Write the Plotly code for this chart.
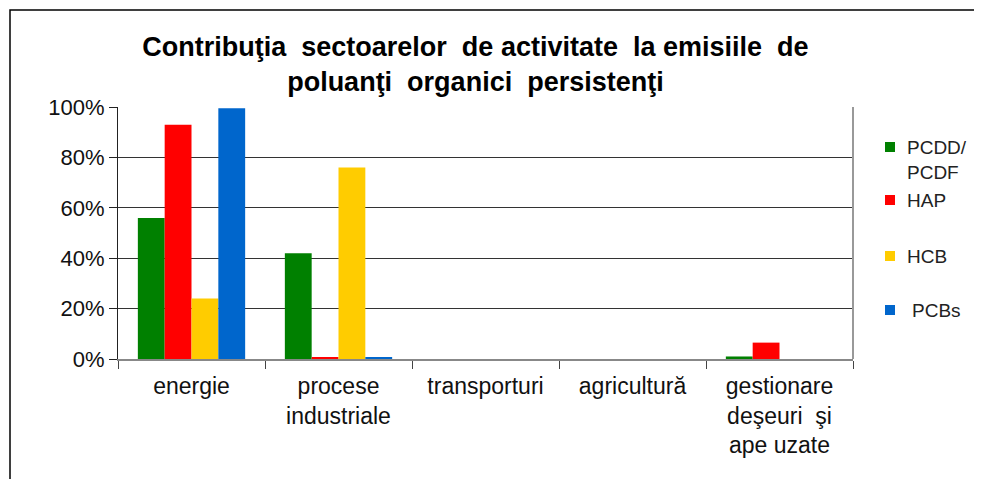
import plotly.graph_objects as go

# sectors and pollutant shares (fraction of total)
sectors = ["energie", "procese<br>industriale", "transporturi", "agricultură",
           "gestionare<br>deşeuri  şi<br>ape uzate"]
pcdd = [0.56, 0.42, 0.0, 0.0, 0.01]
hap = [0.93, 0.005, 0.0, 0.0, 0.065]
hcb = [0.24, 0.76, 0.0, 0.0, 0.0]
pcbs = [0.995, 0.005, 0.0, 0.0, 0.0]

names = ["PCDD/<br>PCDF", "HAP", "HCB", "PCBs"]
colors = ["#008000", "#FF0000", "#FFCC00", "#0066CC"]
values = [pcdd, hap, hcb, pcbs]

W, H = 982, 479
L, R, T, B = 110, 137, 99, 128
pw, ph = W - L - R, H - T - B


def px(x):
    return (x - L) / pw


def py(y):
    return (H - B - y) / ph


fig = go.Figure()
for name, vals, col in zip(names, values, colors):
    fig.add_trace(go.Bar(x=sectors, y=vals, name=name, marker_color=col,
                         marker_line_width=0, showlegend=False))

fig.update_layout(
    width=W, height=H,
    paper_bgcolor="white", plot_bgcolor="white",
    font=dict(family="Liberation Sans, Arial, sans-serif", size=19, color="#111"),
    title=dict(text="<b>Contribuţia  sectoarelor  de activitate  la emisiile  de<br>poluanţi  organici  persistenţi</b>",
               x=0.476, xanchor="center", y=1 - 48 / H, yanchor="top",
               font=dict(size=27, color="#000")),
    margin=dict(l=L, r=R, t=T, b=B, autoexpand=False),
    barmode="group", bargap=0.27, bargroupgap=0,
)
fig.update_xaxes(showline=True, linecolor="#888", linewidth=2, ticks="outside",
                 tickson="boundaries", ticklen=8, tickcolor="#444",
                 tickfont=dict(size=23), ticklabelstandoff=5)
fig.update_yaxes(range=[0, 1], tickvals=[0, 0.2, 0.4, 0.6, 0.8, 1.0],
                 tickformat=".0%", showgrid=True, gridcolor="#333", gridwidth=1,
                 showline=True, linecolor="#222", linewidth=1, ticks="outside",
                 ticklen=8, tickcolor="#222", tickfont=dict(size=22),
                 zeroline=False)
# right border of the plot area
fig.add_shape(type="line", xref="paper", yref="paper", x0=1, x1=1, y0=0, y1=1,
              line=dict(color="#999", width=2))
# outer chart frame
fig.add_shape(type="rect", xref="paper", yref="paper", x0=px(2), x1=px(967),
              y0=py(490), y1=py(2), line=dict(color="#000", width=1.5))

# legend drawn by hand to keep the wide, even spacing
leg_y = [139, 192, 248, 302]
leg_tx = [897, 897, 897, 902]
for name, col, yc, tx in zip(names, colors, leg_y, leg_tx):
    fig.add_shape(type="rect", xref="paper", yref="paper",
                  x0=px(877), x1=px(887), y0=py(yc + 5), y1=py(yc - 5),
                  fillcolor=col, line_width=0)
    fig.add_annotation(text=name, xref="paper", yref="paper", x=px(tx),
                       y=py(yc - 12), xanchor="left", yanchor="top",
                       showarrow=False, align="left",
                       font=dict(size=19, color="#222"))

fig.write_html("out.html")
